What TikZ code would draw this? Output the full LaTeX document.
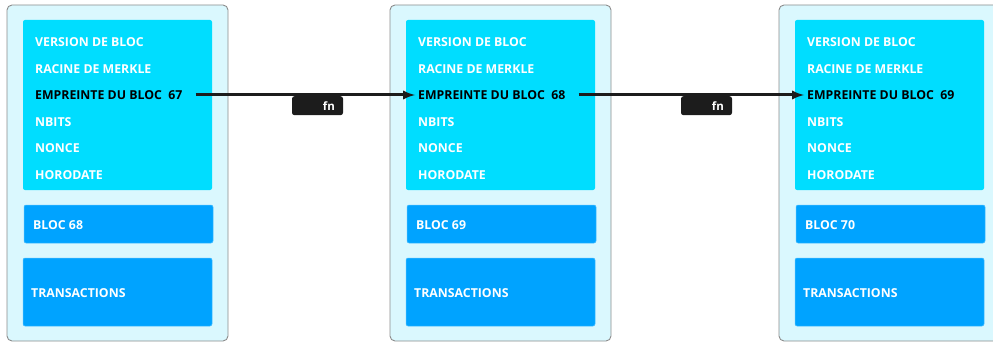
\documentclass[tikz,border=0pt]{standalone}
\usepackage{fontspec}
\setmainfont{Open Sans}
\usepackage{tikz}
\usetikzlibrary{calc,arrows}

\definecolor{paleblock}{HTML}{DAF8FE}
\definecolor{headcyan}{HTML}{00DDFF}
\definecolor{bodyblue}{HTML}{00A3FF}
\definecolor{fnblack}{HTML}{1C1C1C}

\tikzset{
  blockframe/.style={draw=gray!90, fill=paleblock, rounded corners=5pt, line width=0.9pt},
  headbox/.style={fill=headcyan, rounded corners=2pt},
  bodybox/.style={fill=bodyblue, draw=bodyblue!70!white, line width=0.5pt, rounded corners=2pt},
  field/.style={anchor=west, inner sep=0pt, text=white, font=\fontsize{12.3}{14}\selectfont\bfseries},
  hashfield/.style={field, text=black},
  fnlabel/.style={fill=fnblack, text=white, rounded corners=2.5pt, anchor=north,
    minimum height=19pt, text width=35pt, inner xsep=8pt, align=right,
    font=\fontsize{11.5}{13}\selectfont\bfseries},
  link/.style={-latex, line width=3pt, fnblack}
}

\begin{document}
\begin{tikzpicture}[x=1pt,y=-1pt]
  \useasboundingbox (0,0) rectangle (993,342);
  \clip (0,0) rectangle (993,342);
  \foreach \dx/\prv/\nxt/\i in {0/67/68/1, 383/68/69/2, 772/69/70/3}{
    \begin{scope}[xshift=\dx]
      \draw[blockframe] (7,5) rectangle (228,341);
      \fill[headbox] (23,20) rectangle (212,190);
      \draw[bodybox] (24,205) rectangle (213,243);
      \draw[bodybox] (23,258) rectangle (212,326);
      \node[field] (version\i) at (35,42) {VERSION DE BLOC};
      \node[field] (merkle\i) at (35,69) {RACINE DE MERKLE};
      \node[hashfield] (hash\i) at (35,95) {EMPREINTE DU BLOC\ \ \prv};
      \node[field] (nbits\i) at (35,122) {NBITS};
      \node[field] (nonce\i) at (35,148) {NONCE};
      \node[field] (time\i) at (35,175) {HORODATE};
      \node[field] (bloc\i) at (33,225) {BLOC \nxt};
      \node[field] (tx\i) at (31,293) {TRANSACTIONS};
    \end{scope}
  }
  % liens entre les blocs
  \draw[link] ([xshift=13pt]hash1.east) -- ([xshift=-3pt]hash2.west);
  \draw[link] ([xshift=13pt]hash2.east) -- ([xshift=-3pt]hash3.west);
  \node[fnlabel] (fn1) at (317.5,96) {fn};
  \node[fnlabel] (fn2) at (706.5,96) {fn};
\end{tikzpicture}
\end{document}
